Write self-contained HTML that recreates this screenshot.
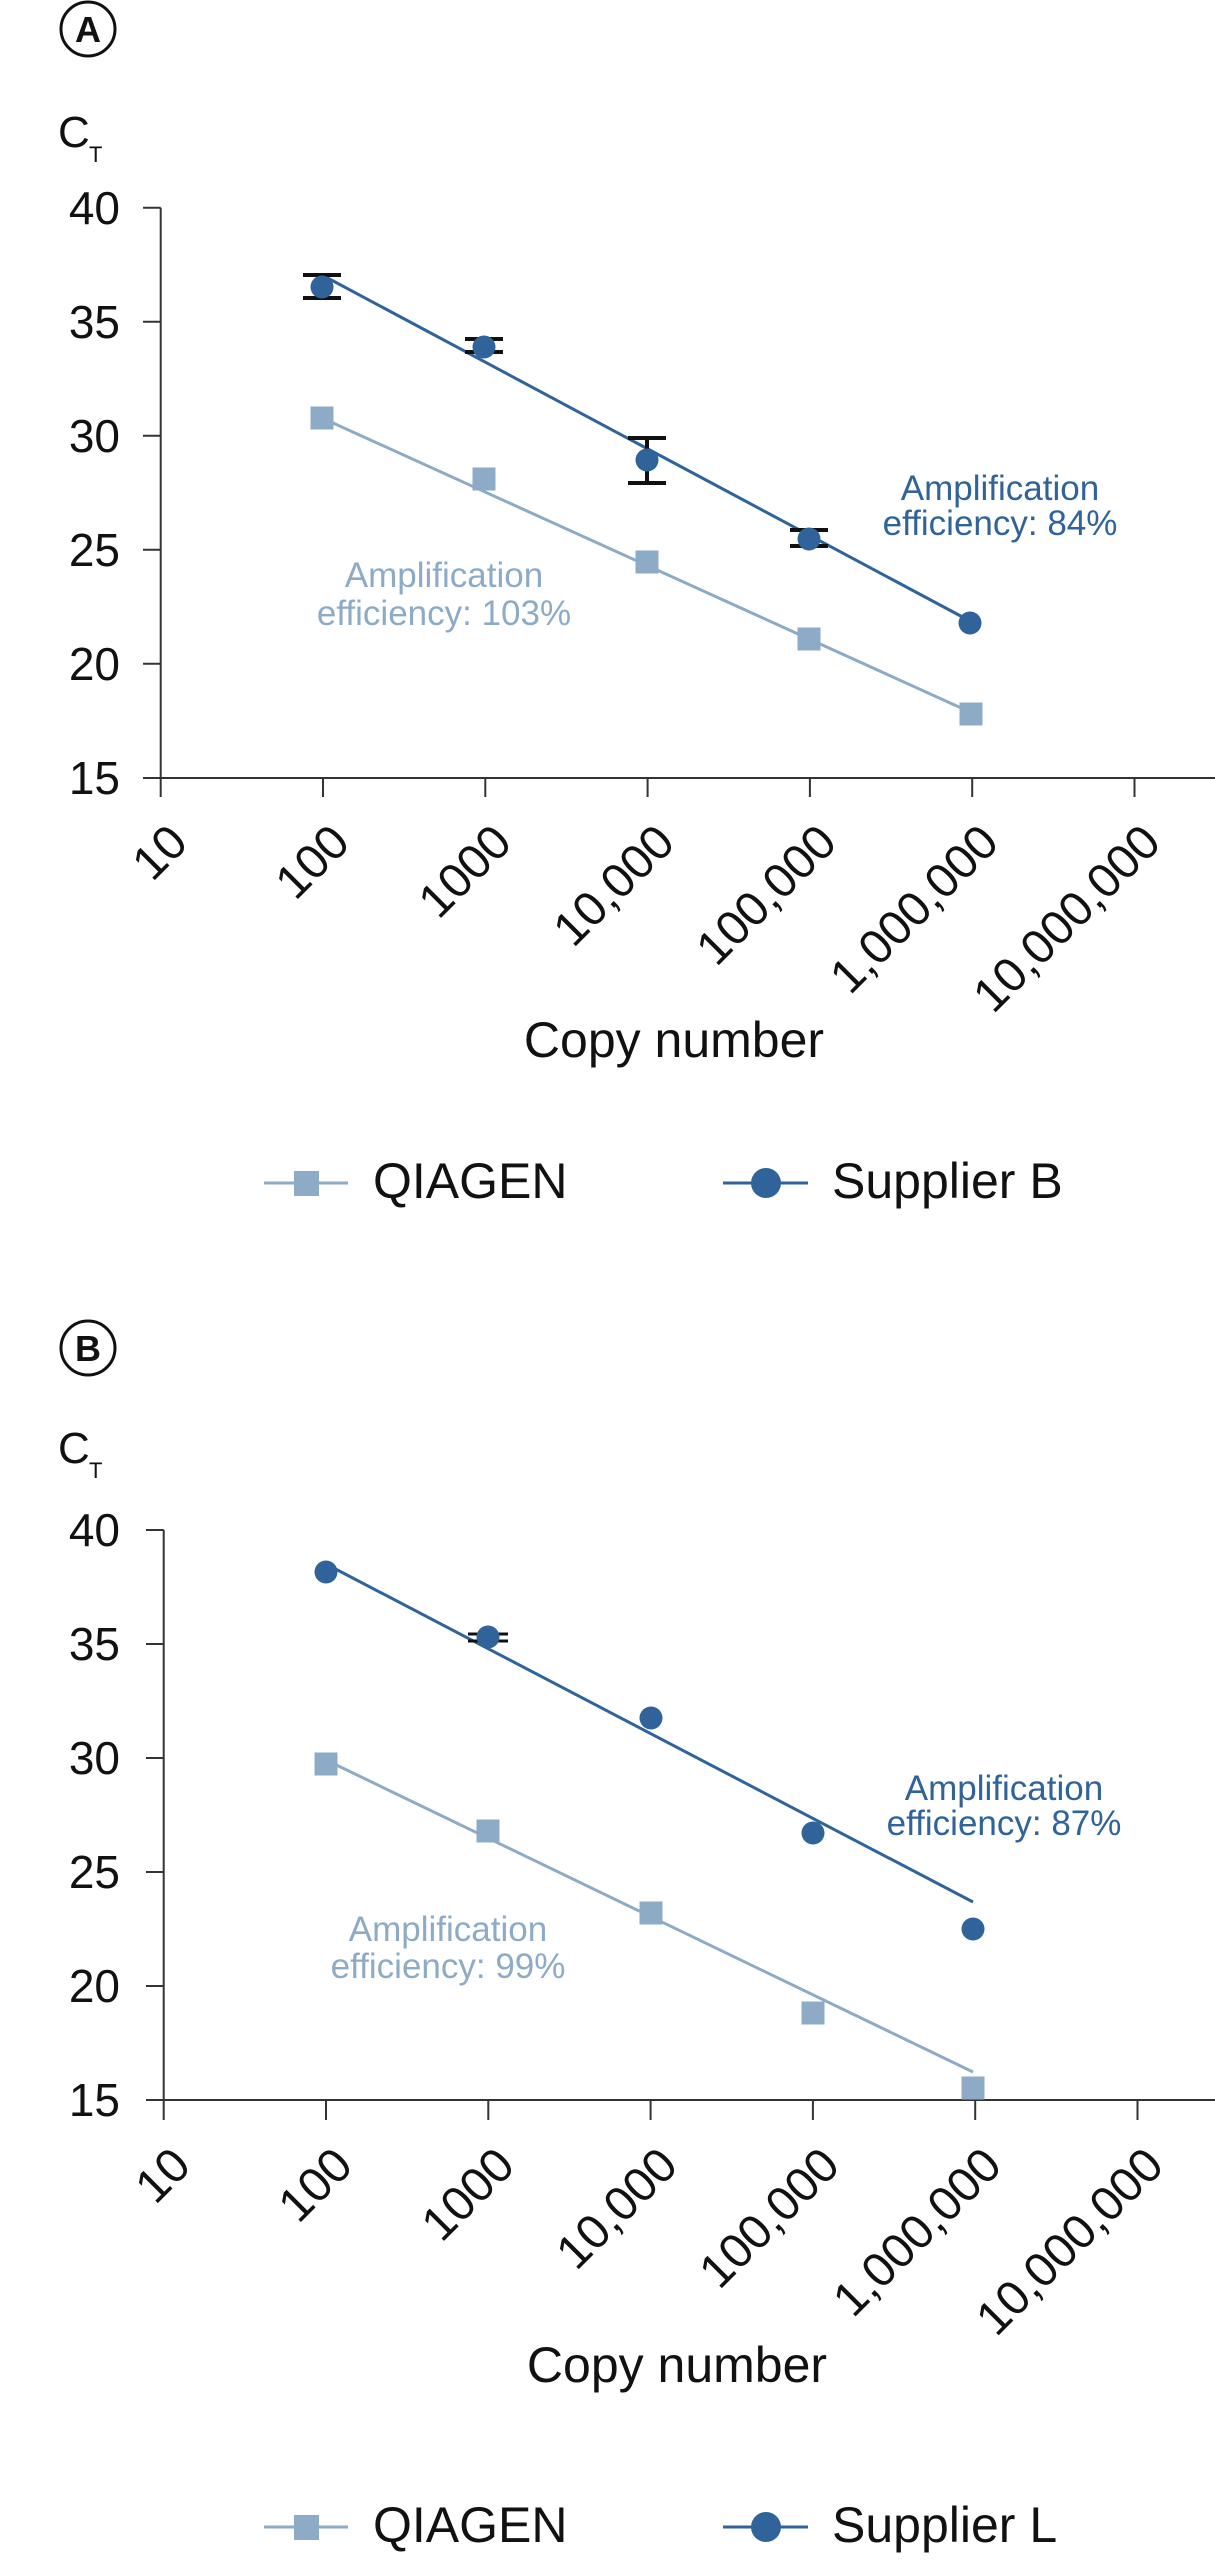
<!DOCTYPE html>
<html><head><meta charset="utf-8"><style>
html,body{margin:0;padding:0;background:#fff;}
svg{display:block;font-family:"Liberation Sans",sans-serif;}
</style></head><body>
<svg width="1215" height="2560" viewBox="0 0 1215 2560" xmlns="http://www.w3.org/2000/svg">
<!-- ===== Chart A ===== -->
<circle cx="88" cy="29" r="27" fill="none" stroke="#111" stroke-width="3"/>
<text x="88" y="42" font-size="36" font-weight="bold" text-anchor="middle" fill="#111">A</text>
<text x="58" y="147" font-size="44" fill="#111">C</text>
<text x="89" y="162" font-size="22" fill="#111">T</text>
<g stroke="#333" stroke-width="2" fill="none">
<line x1="160.7" y1="207.7" x2="160.7" y2="778"/>
<line x1="160.7" y1="778" x2="1215" y2="778"/>
<line x1="143" y1="207.7" x2="160.7" y2="207.7"/>
<line x1="143" y1="321.7" x2="160.7" y2="321.7"/>
<line x1="143" y1="435.7" x2="160.7" y2="435.7"/>
<line x1="143" y1="549.7" x2="160.7" y2="549.7"/>
<line x1="143" y1="663.7" x2="160.7" y2="663.7"/>
<line x1="143" y1="778" x2="160.7" y2="778"/>
<line x1="160.7" y1="778" x2="160.7" y2="797"/>
<line x1="323" y1="778" x2="323" y2="797"/>
<line x1="485.3" y1="778" x2="485.3" y2="797"/>
<line x1="647.6" y1="778" x2="647.6" y2="797"/>
<line x1="809.9" y1="778" x2="809.9" y2="797"/>
<line x1="972.2" y1="778" x2="972.2" y2="797"/>
<line x1="1134.5" y1="778" x2="1134.5" y2="797"/>
</g>
<g font-size="46" fill="#111" text-anchor="end">
<text x="120" y="224">40</text>
<text x="120" y="338">35</text>
<text x="120" y="452">30</text>
<text x="120" y="566">25</text>
<text x="120" y="680">20</text>
<text x="120" y="794">15</text>
</g>
<g font-size="48" fill="#111" text-anchor="end">
<text transform="translate(190,845) rotate(-45)">10</text>
<text transform="translate(352,845) rotate(-45)">100</text>
<text transform="translate(514,845) rotate(-45)">1000</text>
<text transform="translate(677,845) rotate(-45)">10,000</text>
<text transform="translate(839,845) rotate(-45)">100,000</text>
<text transform="translate(1001,845) rotate(-45)">1,000,000</text>
<text transform="translate(1163,845) rotate(-45)">10,000,000</text>
</g>
<text x="674" y="1057" font-size="50" fill="#111" text-anchor="middle">Copy number</text>
<line x1="322" y1="418" x2="970" y2="712" stroke="#8dabc6" stroke-width="3"/>
<line x1="322" y1="275" x2="970" y2="621" stroke="#2f6399" stroke-width="3"/>
<g stroke="#111" stroke-width="4">
<line x1="303" y1="275" x2="341" y2="275"/><line x1="303" y1="298" x2="341" y2="298"/><line x1="322" y1="275" x2="322" y2="298"/>
<line x1="465" y1="339" x2="503" y2="339"/><line x1="465" y1="352" x2="503" y2="352"/><line x1="484" y1="339" x2="484" y2="352"/>
<line x1="628" y1="438" x2="666" y2="438"/><line x1="628" y1="483" x2="666" y2="483"/><line x1="647" y1="438" x2="647" y2="483"/>
<line x1="790" y1="530" x2="828" y2="530"/><line x1="790" y1="546" x2="828" y2="546"/><line x1="809" y1="530" x2="809" y2="546"/>
</g>
<g fill="#8dabc6">
<rect x="310.5" y="406.5" width="23" height="23"/>
<rect x="472.5" y="467.5" width="23" height="23"/>
<rect x="635.5" y="550.5" width="23" height="23"/>
<rect x="797.5" y="627.5" width="23" height="23"/>
<rect x="959.5" y="702.5" width="23" height="23"/>
</g>
<g fill="#2f6399">
<circle cx="322" cy="287" r="11.5"/>
<circle cx="484" cy="347" r="11.5"/>
<circle cx="647" cy="460" r="11.5"/>
<circle cx="809" cy="539" r="11.5"/>
<circle cx="970" cy="623" r="11.5"/>
</g>
<g font-size="35" text-anchor="middle">
<text x="1000" y="500" fill="#2f6399">Amplification</text>
<text x="1000" y="535" fill="#2f6399">efficiency: 84%</text>
<text x="444" y="587" fill="#8dabc6">Amplification</text>
<text x="444" y="625" fill="#8dabc6">efficiency: 103%</text>
</g>
<line x1="264" y1="1183" x2="348" y2="1183" stroke="#8dabc6" stroke-width="3"/>
<rect x="294" y="1171" width="25" height="25" fill="#8dabc6"/>
<text x="373" y="1198" font-size="50" fill="#111">QIAGEN</text>
<line x1="723" y1="1183" x2="808" y2="1183" stroke="#2f6399" stroke-width="3"/>
<circle cx="766" cy="1183" r="15" fill="#2f6399"/>
<text x="832" y="1198" font-size="50" fill="#111">Supplier B</text>

<!-- ===== Chart B ===== -->
<circle cx="88" cy="1348" r="27" fill="none" stroke="#111" stroke-width="3"/>
<text x="88" y="1361" font-size="36" font-weight="bold" text-anchor="middle" fill="#111">B</text>
<text x="58" y="1463" font-size="44" fill="#111">C</text>
<text x="89" y="1478" font-size="22" fill="#111">T</text>
<g stroke="#333" stroke-width="2" fill="none">
<line x1="163.7" y1="1530" x2="163.7" y2="2100"/>
<line x1="163.7" y1="2100" x2="1215" y2="2100"/>
<line x1="146" y1="1530" x2="163.7" y2="1530"/>
<line x1="146" y1="1644" x2="163.7" y2="1644"/>
<line x1="146" y1="1758" x2="163.7" y2="1758"/>
<line x1="146" y1="1872" x2="163.7" y2="1872"/>
<line x1="146" y1="1986" x2="163.7" y2="1986"/>
<line x1="146" y1="2100" x2="163.7" y2="2100"/>
<line x1="163.7" y1="2100" x2="163.7" y2="2120"/>
<line x1="326" y1="2100" x2="326" y2="2120"/>
<line x1="488.3" y1="2100" x2="488.3" y2="2120"/>
<line x1="650.6" y1="2100" x2="650.6" y2="2120"/>
<line x1="812.9" y1="2100" x2="812.9" y2="2120"/>
<line x1="975.2" y1="2100" x2="975.2" y2="2120"/>
<line x1="1137.5" y1="2100" x2="1137.5" y2="2120"/>
</g>
<g font-size="46" fill="#111" text-anchor="end">
<text x="120" y="1546">40</text>
<text x="120" y="1660">35</text>
<text x="120" y="1774">30</text>
<text x="120" y="1888">25</text>
<text x="120" y="2002">20</text>
<text x="120" y="2116">15</text>
</g>
<g font-size="48" fill="#111" text-anchor="end">
<text transform="translate(193,2168) rotate(-45)">10</text>
<text transform="translate(355,2168) rotate(-45)">100</text>
<text transform="translate(517,2168) rotate(-45)">1000</text>
<text transform="translate(680,2168) rotate(-45)">10,000</text>
<text transform="translate(842,2168) rotate(-45)">100,000</text>
<text transform="translate(1004,2168) rotate(-45)">1,000,000</text>
<text transform="translate(1166,2168) rotate(-45)">10,000,000</text>
</g>
<text x="677" y="2382" font-size="50" fill="#111" text-anchor="middle">Copy number</text>
<line x1="326" y1="1760" x2="973" y2="2072" stroke="#8dabc6" stroke-width="3"/>
<line x1="326" y1="1564" x2="973" y2="1902" stroke="#2f6399" stroke-width="3"/>
<g stroke="#111" stroke-width="3">
<line x1="468" y1="1634" x2="508" y2="1634"/><line x1="468" y1="1641" x2="508" y2="1641"/>
</g>
<g fill="#8dabc6">
<rect x="314.5" y="1752.5" width="23" height="23"/>
<rect x="476.5" y="1819.5" width="23" height="23"/>
<rect x="639.5" y="1901.5" width="23" height="23"/>
<rect x="801.5" y="2001.5" width="23" height="23"/>
<rect x="961.5" y="2076.5" width="23" height="23"/>
</g>
<g fill="#2f6399">
<circle cx="326" cy="1572" r="11.5"/>
<circle cx="488" cy="1637" r="11.5"/>
<circle cx="651" cy="1718" r="11.5"/>
<circle cx="813" cy="1833" r="11.5"/>
<circle cx="973" cy="1929" r="11.5"/>
</g>
<g font-size="35" text-anchor="middle">
<text x="1004" y="1800" fill="#2f6399">Amplification</text>
<text x="1004" y="1835" fill="#2f6399">efficiency: 87%</text>
<text x="448" y="1941" fill="#8dabc6">Amplification</text>
<text x="448" y="1978" fill="#8dabc6">efficiency: 99%</text>
</g>
<line x1="264" y1="2527" x2="348" y2="2527" stroke="#8dabc6" stroke-width="3"/>
<rect x="294" y="2515" width="25" height="25" fill="#8dabc6"/>
<text x="373" y="2542" font-size="50" fill="#111">QIAGEN</text>
<line x1="723" y1="2527" x2="808" y2="2527" stroke="#2f6399" stroke-width="3"/>
<circle cx="766" cy="2527" r="15" fill="#2f6399"/>
<text x="832" y="2542" font-size="50" fill="#111">Supplier L</text>
</svg>
</body></html>
